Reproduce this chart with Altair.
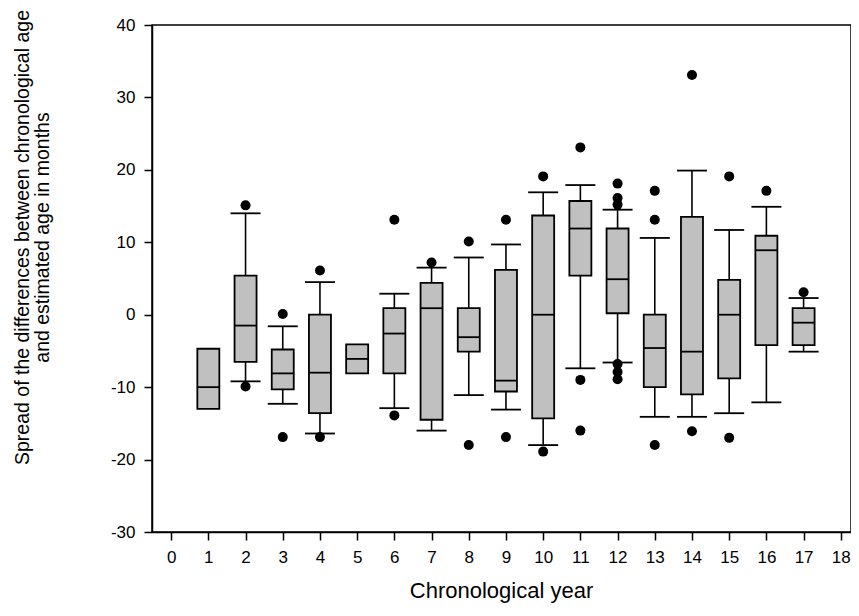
import altair as alt
import pandas as pd

# ---- data ----
years = list(range(1, 18))
whisker_low = [None, -9.2, -12.3, -16.4, None, -12.9, -16.0, -11.1, -13.1, -18.0,
               -7.4, -6.6, -14.1, -14.1, -13.6, -12.1, -5.1]
q1 = [-13.0, -6.5, -10.3, -13.6, -8.1, -8.1, -14.5, -5.1, -10.6, -14.3,
      5.4, 0.2, -10.0, -11.0, -8.8, -4.2, -4.2]
median = [-10.0, -1.5, -8.1, -8.0, -6.1, -2.6, 0.9, -3.1, -9.1, 0.0,
          11.9, 4.9, -4.6, -5.1, 0.0, 8.9, -1.1]
q3 = [-4.7, 5.4, -4.8, 0.0, -4.1, 0.9, 4.4, 0.9, 6.2, 13.7,
      15.7, 11.9, 0.0, 13.5, 4.8, 10.9, 0.9]
whisker_high = [None, 14.0, -1.6, 4.5, None, 2.9, 6.5, 7.9, 9.7, 16.9,
                17.9, 14.5, 10.6, 19.9, 11.7, 14.9, 2.3]

outlier_year = [2, 2, 3, 3, 4, 4, 6, 6, 7, 8, 8, 9, 9, 10, 10, 11, 11, 11,
                12, 12, 12, 12, 12, 12, 13, 13, 13, 14, 14, 15, 15, 16, 17]
outlier_value = [15.1, -9.9, 0.1, -16.9, 6.1, -16.9, 13.1, -13.9, 7.2, 10.1, -18.0,
                 13.1, -16.9, 19.1, -18.9, 23.1, -9.0, -16.0,
                 18.1, 16.1, 15.2, -6.8, -7.9, -8.9, 17.1, 13.1, -18.0,
                 33.1, -16.1, 19.1, -17.0, 17.1, 3.1]

x_ticks = list(range(0, 19))
y_ticks = list(range(-30, 41, 10))
x_title = "Chronological year"
y_title = ["Spread of the differences between chronological age",
           "and estimated age in months"]

# ---- tables ----
boxes = pd.DataFrame({"year": years, "q1": q1, "median": median, "q3": q3,
                      "lo": whisker_low, "hi": whisker_high})
whisk = boxes.dropna(subset=["lo", "hi"])
outl = pd.DataFrame({"year": outlier_year, "value": outlier_value})

FONT = "Liberation Sans"

x_axis = alt.Axis(values=x_ticks, labelExpr="datum.value + ''", title=x_title,
                  grid=False, titleX=349, titleY=65, titleBaseline="alphabetic",
                  titleAlign="center", labelPadding=9)
y_axis = alt.Axis(values=y_ticks, labelExpr="datum.value + ''", title=y_title,
                  grid=False, titleX=-130, titleY=212, titleBaseline="middle",
                  titleAlign="center", titleAngle=-90, titleLineHeight=20,
                  labelPadding=9)
x_scale = alt.Scale(domain=[-0.38, 18.14], nice=False, zero=False)
y_scale = alt.Scale(domain=[-30, 40], nice=False, zero=False)


def X():
    return alt.X("year:Q", scale=x_scale, axis=x_axis)


def Y(field):
    return alt.Y(f"{field}:Q", scale=y_scale, axis=y_axis)


whisker = alt.Chart(whisk).mark_rule(color="black", strokeWidth=1.6).encode(
    x=X(), y=Y("lo"), y2="hi")
cap_lo = alt.Chart(whisk).mark_rule(color="black", strokeWidth=1.8,
                                    xOffset=-15, x2Offset=15).encode(
    x=X(), x2="year", y=Y("lo"))
cap_hi = alt.Chart(whisk).mark_rule(color="black", strokeWidth=1.8,
                                    xOffset=-15, x2Offset=15).encode(
    x=X(), x2="year", y=Y("hi"))
box = alt.Chart(boxes).mark_bar(size=22, fill="#c0c0c0", stroke="black",
                                strokeWidth=1.8).encode(
    x=X(), y=Y("q1"), y2="q3")
med = alt.Chart(boxes).mark_rule(color="black", strokeWidth=1.8,
                                 xOffset=-11, x2Offset=11).encode(
    x=X(), x2="year", y=Y("median"))
pts = alt.Chart(outl).mark_circle(size=100, color="black", opacity=1).encode(
    x=X(), y=Y("value"))

chart = alt.layer(whisker, cap_lo, cap_hi, box, med, pts).properties(
    width=699, height=507,
    autosize=alt.AutoSizeParams(type="none"),
    padding={"left": 144, "top": 17, "right": 0, "bottom": 72},
).configure_view(
    stroke="black", strokeWidth=1.5
).configure_axis(
    domainColor="black", domainWidth=1.5, tickColor="black", tickWidth=1.5,
    tickSize=8, labelFont=FONT, labelFontSize=17, labelColor="black",
    titleFont=FONT, titleFontWeight="normal", titleColor="black",
).configure_axisY(
    titleFontSize=19.5,
).configure_axisX(
    titleFontSize=22,
)

chart.save("out.html", embed_options={"renderer": "svg", "actions": False})
